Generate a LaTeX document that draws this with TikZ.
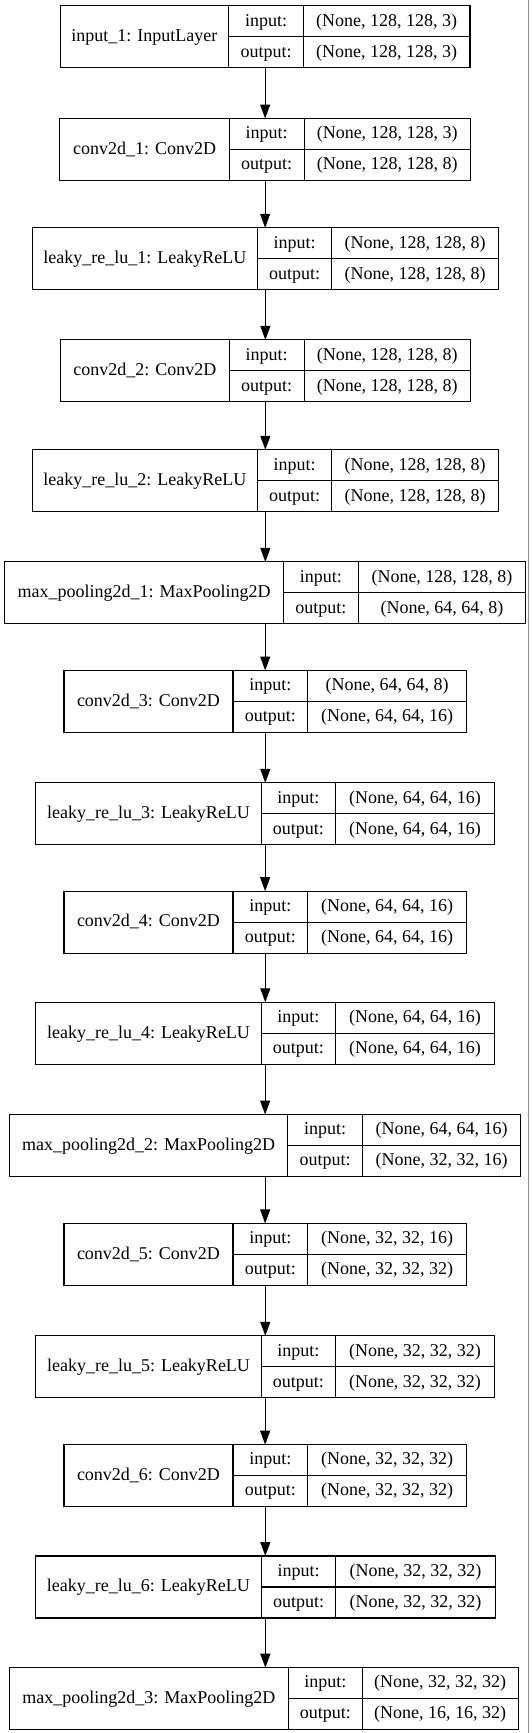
\documentclass[tikz,border=0pt]{standalone}
\usepackage{fontspec}
\setmainfont{Liberation Serif}
\usetikzlibrary{arrows.meta}

\tikzset{
  cell/.style={draw, line width=1.1pt, inner sep=0pt, outer sep=0pt,
    text height=13pt, text depth=3.5pt, anchor=north west},
  frame/.style={inner sep=0pt, outer sep=0pt, anchor=north west},
  flow/.style={line width=1.1pt, -{Triangle[length=14pt, width=10pt]}},
}

% #1 name, #2 top, #3 left, #4 first split, #5 second split, #6 right,
% #7 layer label, #8 input shape, #9 output shape
\newcommand{\layerbox}[9]{%
  \node[frame, minimum width={#6-#3}, minimum height=62] (#1) at (#3,-#2) {};
  \node[cell, minimum width={#4-#3}, minimum height=62] (#1-name) at (#3,-#2) {#7};
  \node[cell, minimum width={#5-#4}, minimum height=31] (#1-inl) at (#4,-#2) {input:};
  \node[cell, minimum width={#5-#4}, minimum height=31] (#1-outl) at (#4,-#2-31) {output:};
  \node[cell, minimum width={#6-#5}, minimum height=31] (#1-ins) at (#5,-#2) {#8};
  \node[cell, minimum width={#6-#5}, minimum height=31] (#1-outs) at (#5,-#2-31) {#9};
}

\begin{document}
\begin{tikzpicture}[x=1pt, y=1pt, font=\fontsize{18}{20}\selectfont]
  \useasboundingbox (0,0) rectangle (531,-1733);
  \draw[black!45, line width=1pt] (528.3,0) -- (528.3,-1733);

  \layerbox{in1}{5.8}{60.3}{228.6}{303.4}{470}{input\_1: InputLayer}{(None, 128, 128, 3)}{(None, 128, 128, 3)}
  \layerbox{conv1}{118.5}{59.9}{229.3}{304.1}{470.4}{conv2d\_1: Conv2D}{(None, 128, 128, 3)}{(None, 128, 128, 8)}
  \layerbox{lrelu1}{227.8}{32.2}{257.4}{331.9}{498.5}{leaky\_re\_lu\_1: LeakyReLU}{(None, 128, 128, 8)}{(None, 128, 128, 8)}
  \layerbox{conv2}{339.9}{60.3}{229.3}{304.1}{470.4}{conv2d\_2: Conv2D}{(None, 128, 128, 8)}{(None, 128, 128, 8)}
  \layerbox{lrelu2}{449.8}{32.2}{257.4}{331.9}{498.5}{leaky\_re\_lu\_2: LeakyReLU}{(None, 128, 128, 8)}{(None, 128, 128, 8)}
  \layerbox{pool1}{561.9}{4.7}{283.4}{358.3}{525.7}{max\_pooling2d\_1: MaxPooling2D}{(None, 128, 128, 8)}{(None, 64, 64, 8)}
  \layerbox{conv3}{670.5}{64}{233}{307.8}{466.6}{conv2d\_3: Conv2D}{(None, 64, 64, 8)}{(None, 64, 64, 16)}
  \layerbox{lrelu3}{782.9}{35.9}{261.1}{335.6}{494.4}{leaky\_re\_lu\_3: LeakyReLU}{(None, 64, 64, 16)}{(None, 64, 64, 16)}
  \layerbox{conv4}{891.2}{64}{233}{307.8}{466.6}{conv2d\_4: Conv2D}{(None, 64, 64, 16)}{(None, 64, 64, 16)}
  \layerbox{lrelu4}{1002.3}{35.9}{261.1}{335.6}{494.4}{leaky\_re\_lu\_4: LeakyReLU}{(None, 64, 64, 16)}{(None, 64, 64, 16)}
  \layerbox{pool2}{1114.5}{9.5}{287.8}{362.3}{520.8}{max\_pooling2d\_2: MaxPooling2D}{(None, 64, 64, 16)}{(None, 32, 32, 16)}
  \layerbox{conv5}{1223.4}{64}{233}{307.8}{466.6}{conv2d\_5: Conv2D}{(None, 32, 32, 16)}{(None, 32, 32, 32)}
  \layerbox{lrelu5}{1335.8}{35.9}{261.1}{335.6}{494.4}{leaky\_re\_lu\_5: LeakyReLU}{(None, 32, 32, 32)}{(None, 32, 32, 32)}
  \layerbox{conv6}{1444.7}{64}{233}{307.8}{466.6}{conv2d\_6: Conv2D}{(None, 32, 32, 32)}{(None, 32, 32, 32)}
  \layerbox{lrelu6}{1556}{35.6}{261.1}{335.9}{495.1}{leaky\_re\_lu\_6: LeakyReLU}{(None, 32, 32, 32)}{(None, 32, 32, 32)}
  \layerbox{pool3}{1667.7}{9.5}{288.2}{362.3}{518.1}{max\_pooling2d\_3: MaxPooling2D}{(None, 32, 32, 32)}{(None, 16, 16, 32)}

  % data flow
  \draw[flow] (in1.south) -- (in1.south |- conv1.north);
  \draw[flow] (conv1.south) -- (conv1.south |- lrelu1.north);
  \draw[flow] (lrelu1.south) -- (lrelu1.south |- conv2.north);
  \draw[flow] (conv2.south) -- (conv2.south |- lrelu2.north);
  \draw[flow] (lrelu2.south) -- (lrelu2.south |- pool1.north);
  \draw[flow] (pool1.south) -- (pool1.south |- conv3.north);
  \draw[flow] (conv3.south) -- (conv3.south |- lrelu3.north);
  \draw[flow] (lrelu3.south) -- (lrelu3.south |- conv4.north);
  \draw[flow] (conv4.south) -- (conv4.south |- lrelu4.north);
  \draw[flow] (lrelu4.south) -- (lrelu4.south |- pool2.north);
  \draw[flow] (pool2.south) -- (pool2.south |- conv5.north);
  \draw[flow] (conv5.south) -- (conv5.south |- lrelu5.north);
  \draw[flow] (lrelu5.south) -- (lrelu5.south |- conv6.north);
  \draw[flow] (conv6.south) -- (conv6.south |- lrelu6.north);
  \draw[flow] (lrelu6.south) -- (lrelu6.south |- pool3.north);
\end{tikzpicture}
\end{document}
